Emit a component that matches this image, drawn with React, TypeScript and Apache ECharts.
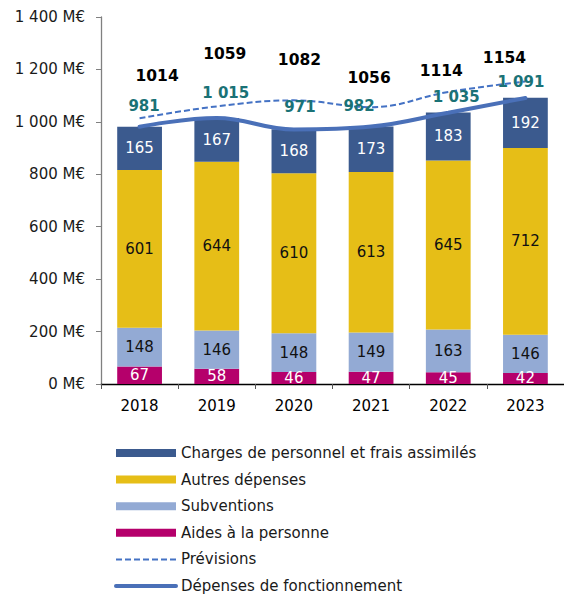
import React, { useEffect, useRef } from 'react';
import * as echarts from 'echarts';

const years = ['2018', '2019', '2020', '2021', '2022', '2023'];
const aides = [67, 58, 46, 47, 45, 42];
const subventions = [148, 146, 148, 149, 163, 146];
const autres = [601, 644, 610, 613, 645, 712];
const charges = [165, 167, 168, 173, 183, 192];
const previsions = [1014, 1059, 1082, 1056, 1114, 1154];
const depenses = [981, 1015, 971, 982, 1035, 1091];

// label placement (pixels relative to the point)
const prevLabelOffsets = [[17.5, -42], [8, -52], [5.5, -40], [-2, -29], [-7, -21], [-21, -23.5]];
const depLabelOffsets = [[4.5, -21], [9, -25], [6, -22.5], [-12, -20.5], [8, -16], [-4.5, -16]];

const FONT = 'DejaVu Sans';
const fmtThousands = (v: number) => String(v).replace(/\B(?=(\d{3})+(?!\d))/g, ' ');

export default function App() {
  const ref = useRef<HTMLDivElement>(null);
  useEffect(() => {
    if (!ref.current) return;
    const chart = echarts.init(ref.current, null, { renderer: 'svg' });
    const barLabel = (color: string) => ({
      show: true,
      position: 'inside',
      fontSize: 15,
      fontFamily: FONT,
      color,
    });
    chart.setOption({
      animation: false,
      grid: { left: 101, right: -4, top: 17, bottom: 215 },
      xAxis: {
        type: 'category',
        data: years,
        axisLine: { lineStyle: { color: '#000', width: 1.3 } },
        axisTick: { show: true, length: 5, lineStyle: { color: '#555' } },
        axisLabel: { fontSize: 15, fontFamily: FONT, color: '#000', margin: 14 },
      },
      yAxis: {
        type: 'value',
        min: 0,
        max: 1400,
        interval: 200,
        axisLine: { show: true, lineStyle: { color: '#808080', width: 1.3 } },
        axisTick: { show: true, length: 5, lineStyle: { color: '#808080' } },
        splitLine: { show: false },
        axisLabel: {
          fontSize: 15,
          fontFamily: FONT,
          color: '#1a1a1a',
          margin: 16,
          formatter: (v: number) => fmtThousands(v) + ' M€',
        },
      },
      legend: {
        orient: 'vertical',
        left: 114,
        top: 444,
        padding: 0,
        itemWidth: 60,
        itemHeight: 8,
        itemGap: 8.6,
        textStyle: { fontSize: 15, fontFamily: FONT, color: '#1a1a1a', lineHeight: 18 },
        data: [
          { name: 'Charges de personnel et frais assimilés', icon: 'rect' },
          { name: 'Autres dépenses', icon: 'rect' },
          { name: 'Subventions', icon: 'rect' },
          { name: 'Aides à la personne', icon: 'rect' },
          { name: 'Prévisions', itemStyle: { opacity: 0 } },
          { name: 'Dépenses de fonctionnement', itemStyle: { opacity: 0 }, lineStyle: { width: 4 } },
        ],
      },
      series: [
        {
          name: 'Aides à la personne',
          type: 'bar',
          stack: 'total',
          barWidth: '58%',
          data: aides,
          itemStyle: { color: '#B5006B' },
          label: barLabel('#fff'),
        },
        {
          name: 'Subventions',
          type: 'bar',
          stack: 'total',
          data: subventions,
          itemStyle: { color: '#93AAD4' },
          label: barLabel('#111'),
        },
        {
          name: 'Autres dépenses',
          type: 'bar',
          stack: 'total',
          data: autres,
          itemStyle: { color: '#E6BE17' },
          label: barLabel('#111'),
        },
        {
          name: 'Charges de personnel et frais assimilés',
          type: 'bar',
          stack: 'total',
          data: charges,
          itemStyle: { color: '#3B5A8E' },
          label: barLabel('#fff'),
        },
        {
          name: 'Prévisions',
          type: 'line',
          z: 3,
          smooth: 0.4,
          symbol: 'circle',
          symbolSize: 0,
          showSymbol: true,
          itemStyle: { color: '#4472C4' },
          lineStyle: { color: '#4472C4', width: 2, type: [6, 3] },
          data: previsions.map((v, i) => ({ value: v, label: { offset: prevLabelOffsets[i] } })),
          label: {
            show: true,
            position: 'inside',
            fontSize: 15.5,
            fontWeight: 'bold',
            fontFamily: FONT,
            color: '#000',
            formatter: (p: any) => String(p.value),
          },
        },
        {
          name: 'Dépenses de fonctionnement',
          type: 'line',
          z: 4,
          smooth: 0.4,
          symbol: 'circle',
          symbolSize: 0,
          showSymbol: true,
          itemStyle: { color: '#4A70B8' },
          lineStyle: { color: '#4A70B8', width: 4, cap: 'round' },
          data: depenses.map((v, i) => ({ value: v, label: { offset: depLabelOffsets[i] } })),
          label: {
            show: true,
            position: 'inside',
            fontSize: 15,
            fontWeight: 'bold',
            fontFamily: FONT,
            color: '#1A7276',
            formatter: (p: any) => fmtThousands(p.value),
          },
        },
      ],
    });
    return () => chart.dispose();
  }, []);
  return (
    <div
      ref={ref}
      style={{ position: 'absolute', left: 0, top: 0, width: 564, height: 599, background: '#fff' }}
    />
  );
}
